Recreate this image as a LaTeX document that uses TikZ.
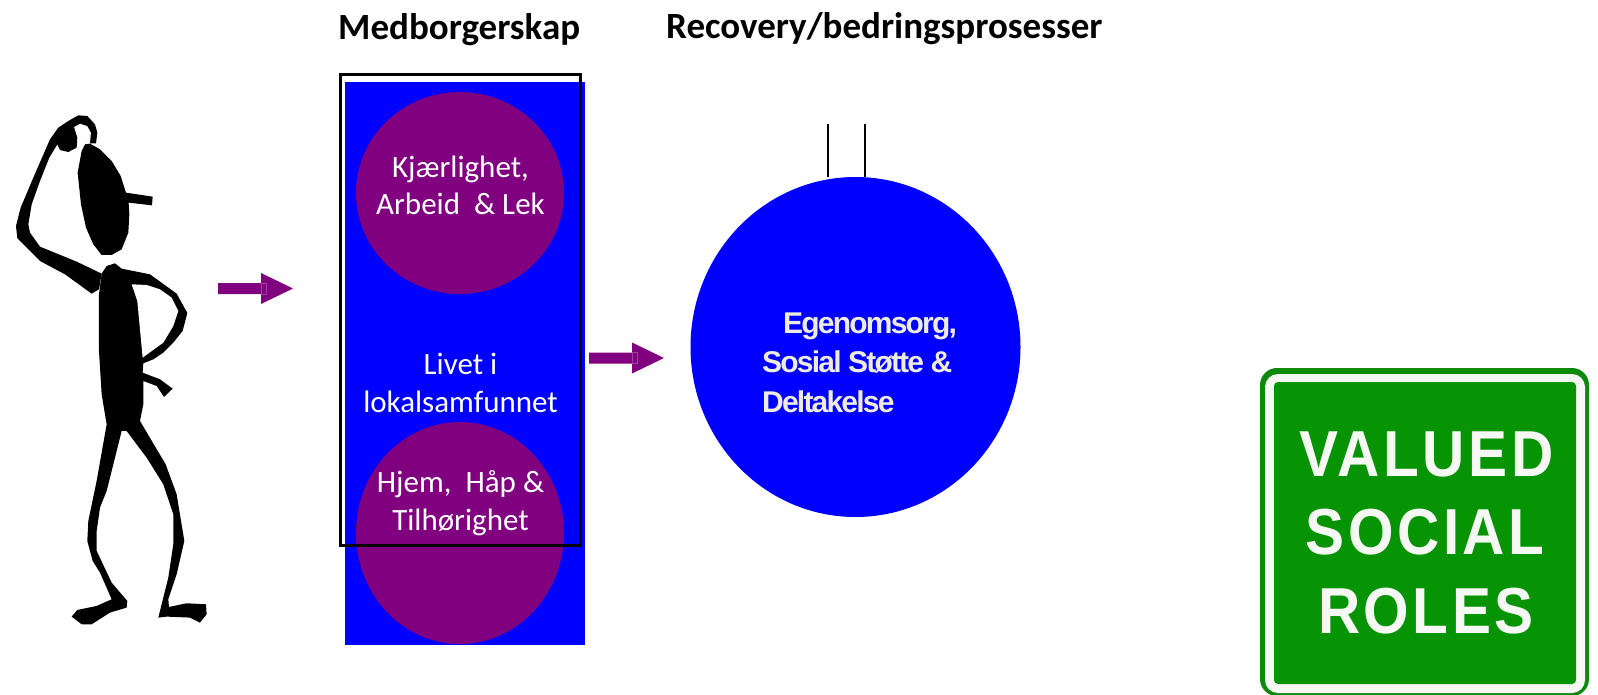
\documentclass[tikz,border=0pt]{standalone}
\usepackage{fontspec}
\usetikzlibrary{shapes.geometric}
\setmainfont{Carlito}
\newfontfamily\egfont[LetterSpace=-6]{Liberation Sans Bold}
\newfontfamily\signfont[FakeStretch=0.9,LetterSpace=5.5]{Liberation Sans Bold}
\definecolor{pblue}{HTML}{0000FF}
\definecolor{ppurple}{HTML}{800080}
\definecolor{signgreen}{HTML}{069404}
\definecolor{signedge}{HTML}{0B8A0B}
\definecolor{signwhite}{HTML}{F6F9F3}
\definecolor{egwhite}{HTML}{EEECE1}
\tikzset{
  x=1pt,y=-1pt,
  heading/.style={anchor=base west,inner sep=0pt,font=\fontsize{37}{37}\selectfont\bfseries,text=black},
  bodytext/.style={anchor=base,inner sep=0pt,font=\fontsize{31}{31}\selectfont,text=white},
  egtext/.style={anchor=base west,inner sep=0pt,font=\fontsize{30}{30}\selectfont\egfont,text=egwhite},
  signtext/.style={anchor=base,inner sep=0pt,font=\fontsize{65}{65}\selectfont\signfont,text=signwhite},
  purpledisc/.style={ellipse,fill=ppurple,inner sep=0pt},
  arrowshaft/.style={fill=ppurple},
}
\begin{document}
\begin{tikzpicture}
\useasboundingbox (0,0) rectangle (1598,695);
% headings
\node[heading] (h1) at (338,39.5) {Medborgerskap};
\node[heading] (h2) at (666,38.5) {Recovery/bedringsprosesser};
% figure
\begin{scope}[shift={(0,101)},x=0.3333pt,y=-0.3333pt]
\fill[black] (270,128)--(300,145)--(335,180)--(362,225)--(378,275)--(458,287)--(456,313)--(386,305)--(388,340)--(385,395)--(365,445)--(335,462)--(305,462)--(280,430)--(258,380)--(243,310)--(233,215)--(245,150)--(255,130)--cycle;
\fill[black] (305,518)--(230,482)--(120,437)--(90,395)--(85,370)--(95,310)--(120,240)--(148,170)--(172,130)--(180,147)--(205,153)--(230,140)--(232,110)--(222,78)--(240,68)--(262,75)--(273,95)--(270,127)--(288,127)--(292,95)--(285,70)--(262,45)--(235,43)--(205,60)--(175,80)--(150,115)--(100,230)--(62,320)--(48,375)--(52,412)--(120,480)--(195,520)--(275,578)--(297,565)--cycle;
\fill[black] (305,518)--(320,495)--(345,487)--(365,503)--(450,520)--(530,578)--(562,636)--(548,690)--(520,725)--(490,755)--(460,775)--(430,787)--(428,815)--(480,835)--(518,863)--(492,888)--(470,855)--(430,840)--(430,910)--(420,960)--(497,1090)--(530,1180)--(553,1320)--(530,1420)--(505,1495)--(507,1518)--(560,1507)--(618,1510)--(620,1540)--(600,1565)--(570,1550)--(500,1547)--(475,1550)--(505,1430)--(520,1330)--(520,1240)--(490,1150)--(440,1070)--(380,990)--(365,990)--(320,1170)--(300,1220)--(290,1290)--(290,1350)--(335,1445)--(382,1500)--(380,1520)--(330,1535)--(275,1570)--(245,1570)--(215,1547)--(232,1527)--(290,1515)--(335,1495)--(300,1415)--(278,1380)--(262,1320)--(265,1260)--(290,1140)--(320,970)--(305,880)--(297,750)--(297,580)--cycle;
\fill[white] (395,550)--(440,552)--(480,565)--(515,590)--(535,630)--(520,675)--(490,725)--(428,770)--(412,600)--cycle;
\end{scope}
% block arrows
\coordinate (a1) at (218,288.5);
\coordinate (a2) at (589,358);
\foreach \c in {a1,a2}{
  \fill[arrowshaft] (\c) ++(0,-5.5) -- ++(43,0) -- ++(0,-10) -- ++(32,15.5) -- ++(-32,15.5) -- ++(0,-10) -- ++(-43,0) -- cycle;
  \draw[draw=ppurple!75!white,line width=0.5pt] (\c) ++(43,-5.5) rectangle ++(5.5,11);
}
% citizenship panel
\fill[pblue] (345,82) rectangle (585,644.7);
\node[purpledisc,minimum width=208pt,minimum height=202pt] (c1) at (460,193) {};
\node[purpledisc,minimum width=208pt,minimum height=222pt] (c2) at (460,533) {};
\draw[black,line width=3pt] (340,75) rectangle (580,545);
\node[bodytext] (t1) at (460.5,177.5) {Kjærlighet,};
\node[bodytext] (t2) at (460.5,214.5) {Arbeid\ \ \& Lek};
\node[bodytext] (t3) at (460.5,374) {Livet i};
\node[bodytext] (t4) at (460.5,412) {lokalsamfunnet};
\node[bodytext] (t5) at (460.5,492) {Hjem,\ \ Håp \&};
\node[bodytext] (t6) at (460.5,530) {Tilhørighet};
% recovery circle
\node[ellipse,fill=pblue,inner sep=0pt,minimum width=330pt,minimum height=340pt] (big) at (855.5,347) {};
\coordinate (l1) at (828.3,124);
\coordinate (l2) at (864.7,124);
\coordinate (l1b) at (828.3,177.5);
\coordinate (l2b) at (864.7,177.5);
\draw[black,line width=2pt] (l1) -- (l1b);
\draw[black,line width=2pt] (l2) -- (l2b);
\node[egtext] (e1) at (783,333) {Egenomsorg,};
\node[egtext] (e2) at (762,372) {Sosial Støtte \&};
\node[egtext] (e3) at (762,412) {Deltakelse};
% sign
\fill[signedge,rounded corners=17pt] (1260,368) rectangle (1589,696);
\fill[signwhite,rounded corners=13pt] (1265,374) rectangle (1585,693);
\fill[signgreen,rounded corners=4pt] (1274,382) rectangle (1576,684);
\node[signtext] (s1) at (1426.5,476) {VALUED};
\node[signtext] (s2) at (1425,554) {SOCIAL};
\node[signtext] (s3) at (1426,633) {ROLES};
\end{tikzpicture}
\end{document}
